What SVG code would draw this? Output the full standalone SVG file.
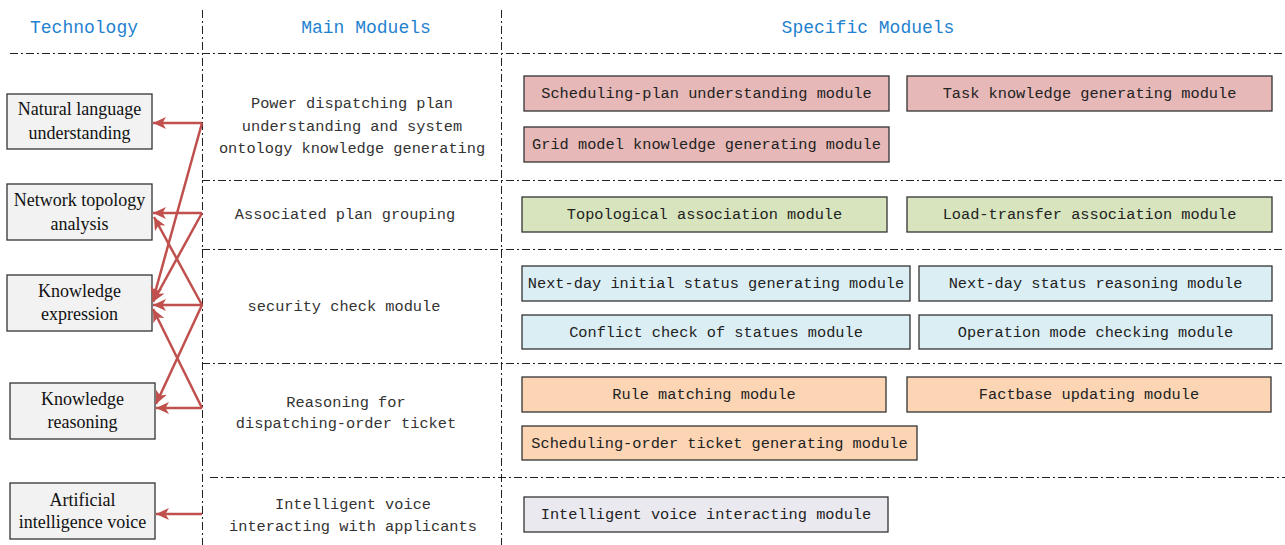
<svg xmlns="http://www.w3.org/2000/svg" width="1285" height="545" viewBox="0 0 1285 545">
<defs>
<marker id="ah" markerUnits="userSpaceOnUse" markerWidth="14" markerHeight="12" refX="13" refY="6" orient="auto">
<path d="M0,0 L13,6 L0,12 L3.5,6 z" fill="#c0504d"/>
</marker>
</defs>
<style>
.hdr{font-family:"Liberation Mono","DejaVu Sans Mono",monospace;font-size:18px;fill:#1f82d0;text-anchor:middle}
.mm{font-family:"Liberation Mono","DejaVu Sans Mono",monospace;font-size:15.3px;fill:#333;text-anchor:middle}
.sm{font-family:"Liberation Mono","DejaVu Sans Mono",monospace;font-size:15.3px;fill:#222;text-anchor:middle}
.tt{font-family:"Liberation Serif","Times New Roman",serif;font-size:18px;fill:#111;text-anchor:middle}
.tech{fill:#f2f2f2;stroke:#333;stroke-width:1.3}
.mod{stroke:#333;stroke-width:1.3}
.pink{fill:#e6b8b7}.green{fill:#d7e4bd}.blue{fill:#dbeef4}.orange{fill:#fcd5b5}.lav{fill:#ebe9f0}
.sep{stroke:#222;stroke-width:1;stroke-dasharray:8 3 2 3;fill:none}
.arr{stroke:#c0504d;stroke-width:2.5;fill:none;marker-end:url(#ah)}
</style>
<rect width="1285" height="545" fill="#fff"/>
<g id="grid">
<line class="sep" x1="202.5" y1="10" x2="202.5" y2="545"/>
<line class="sep" x1="501.5" y1="10" x2="501.5" y2="545"/>
<line class="sep" x1="10" y1="53.5" x2="1285" y2="53.5"/>
<line class="sep" x1="202" y1="180.5" x2="1285" y2="180.5"/>
<line class="sep" x1="202" y1="249.5" x2="1285" y2="249.5"/>
<line class="sep" x1="202" y1="363.5" x2="1285" y2="363.5"/>
<line class="sep" x1="210" y1="477.5" x2="1285" y2="477.5"/>
</g>
<g id="headers">
<text class="hdr" x="84" y="33">Technology</text>
<text class="hdr" x="366" y="33">Main Moduels</text>
<text class="hdr" x="868" y="33">Specific Moduels</text>
</g>
<g id="tech-nlu"><rect class="tech" x="7" y="94" width="145" height="55"/><text class="tt" x="79.5" y="115">Natural language</text><text class="tt" x="79.5" y="139">understanding</text></g>
<g id="tech-topo"><rect class="tech" x="7" y="184" width="145" height="56"/><text class="tt" x="79.5" y="206">Network topology</text><text class="tt" x="79.5" y="230">analysis</text></g>
<g id="tech-kexp"><rect class="tech" x="7" y="275" width="145" height="56"/><text class="tt" x="79.5" y="297">Knowledge</text><text class="tt" x="79.5" y="320">expression</text></g>
<g id="tech-kreas"><rect class="tech" x="10" y="383" width="145" height="56"/><text class="tt" x="82.5" y="405">Knowledge</text><text class="tt" x="82.5" y="428">reasoning</text></g>
<g id="tech-aiv"><rect class="tech" x="10" y="483" width="145" height="56"/><text class="tt" x="82.5" y="506">Artificial</text><text class="tt" x="82.5" y="528">intelligence voice</text></g>
<g id="main-plan"><text class="mm" x="352" y="108">Power dispatching plan</text><text class="mm" x="352" y="131">understanding and system</text><text class="mm" x="352" y="153">ontology knowledge generating</text></g>
<g id="main-group"><text class="mm" x="345" y="219">Associated plan grouping</text></g>
<g id="main-security"><text class="mm" x="344" y="311">security check module</text></g>
<g id="main-reason"><text class="mm" x="346" y="407">Reasoning for</text><text class="mm" x="346" y="428">dispatching-order ticket</text></g>
<g id="main-voice"><text class="mm" x="353" y="509">Intelligent voice</text><text class="mm" x="353" y="531">interacting with applicants</text></g>
<g id="m1"><rect class="mod pink" x="524" y="76" width="365" height="35"/><text class="sm" x="706.5" y="98">Scheduling-plan understanding module</text></g>
<g id="m2"><rect class="mod pink" x="907" y="76" width="365" height="35"/><text class="sm" x="1089.5" y="98">Task knowledge generating module</text></g>
<g id="m3"><rect class="mod pink" x="524" y="127" width="365" height="35"/><text class="sm" x="706.5" y="149">Grid model knowledge generating module</text></g>
<g id="m4"><rect class="mod green" x="522" y="197" width="365" height="35"/><text class="sm" x="704.5" y="219">Topological association module</text></g>
<g id="m5"><rect class="mod green" x="907" y="197" width="365" height="35"/><text class="sm" x="1089.5" y="219">Load-transfer association module</text></g>
<g id="m6"><rect class="mod blue" x="522" y="266" width="388" height="35"/><text class="sm" x="716" y="288">Next-day initial status generating module</text></g>
<g id="m7"><rect class="mod blue" x="919" y="266" width="353" height="35"/><text class="sm" x="1095.5" y="288">Next-day status reasoning module</text></g>
<g id="m8"><rect class="mod blue" x="522" y="315" width="388" height="34"/><text class="sm" x="716" y="337">Conflict check of statues module</text></g>
<g id="m9"><rect class="mod blue" x="919" y="315" width="353" height="34"/><text class="sm" x="1095.5" y="337">Operation mode checking module</text></g>
<g id="m10"><rect class="mod orange" x="522" y="377" width="364" height="35"/><text class="sm" x="704" y="399">Rule matching module</text></g>
<g id="m11"><rect class="mod orange" x="907" y="377" width="364" height="35"/><text class="sm" x="1089" y="399">Factbase updating module</text></g>
<g id="m12"><rect class="mod orange" x="522" y="426" width="395" height="34"/><text class="sm" x="719.5" y="448">Scheduling-order ticket generating module</text></g>
<g id="m13"><rect class="mod lav" x="524" y="497" width="364" height="35"/><text class="sm" x="706" y="519">Intelligent voice interacting module</text></g>
<g id="connectors">
<line class="arr" x1="202" y1="123" x2="153" y2="123"/>
<line class="arr" x1="202" y1="123" x2="153" y2="300"/>
<line class="arr" x1="202" y1="213" x2="153" y2="213"/>
<line class="arr" x1="202" y1="213" x2="153" y2="302"/>
<line class="arr" x1="202" y1="305" x2="153" y2="305"/>
<line class="arr" x1="202" y1="305" x2="154" y2="217"/>
<line class="arr" x1="202" y1="305" x2="156" y2="404"/>
<line class="arr" x1="202" y1="408" x2="156" y2="408"/>
<line class="arr" x1="202" y1="408" x2="153" y2="309"/>
<line class="arr" x1="202" y1="514" x2="156" y2="514"/>
</g>
</svg>
